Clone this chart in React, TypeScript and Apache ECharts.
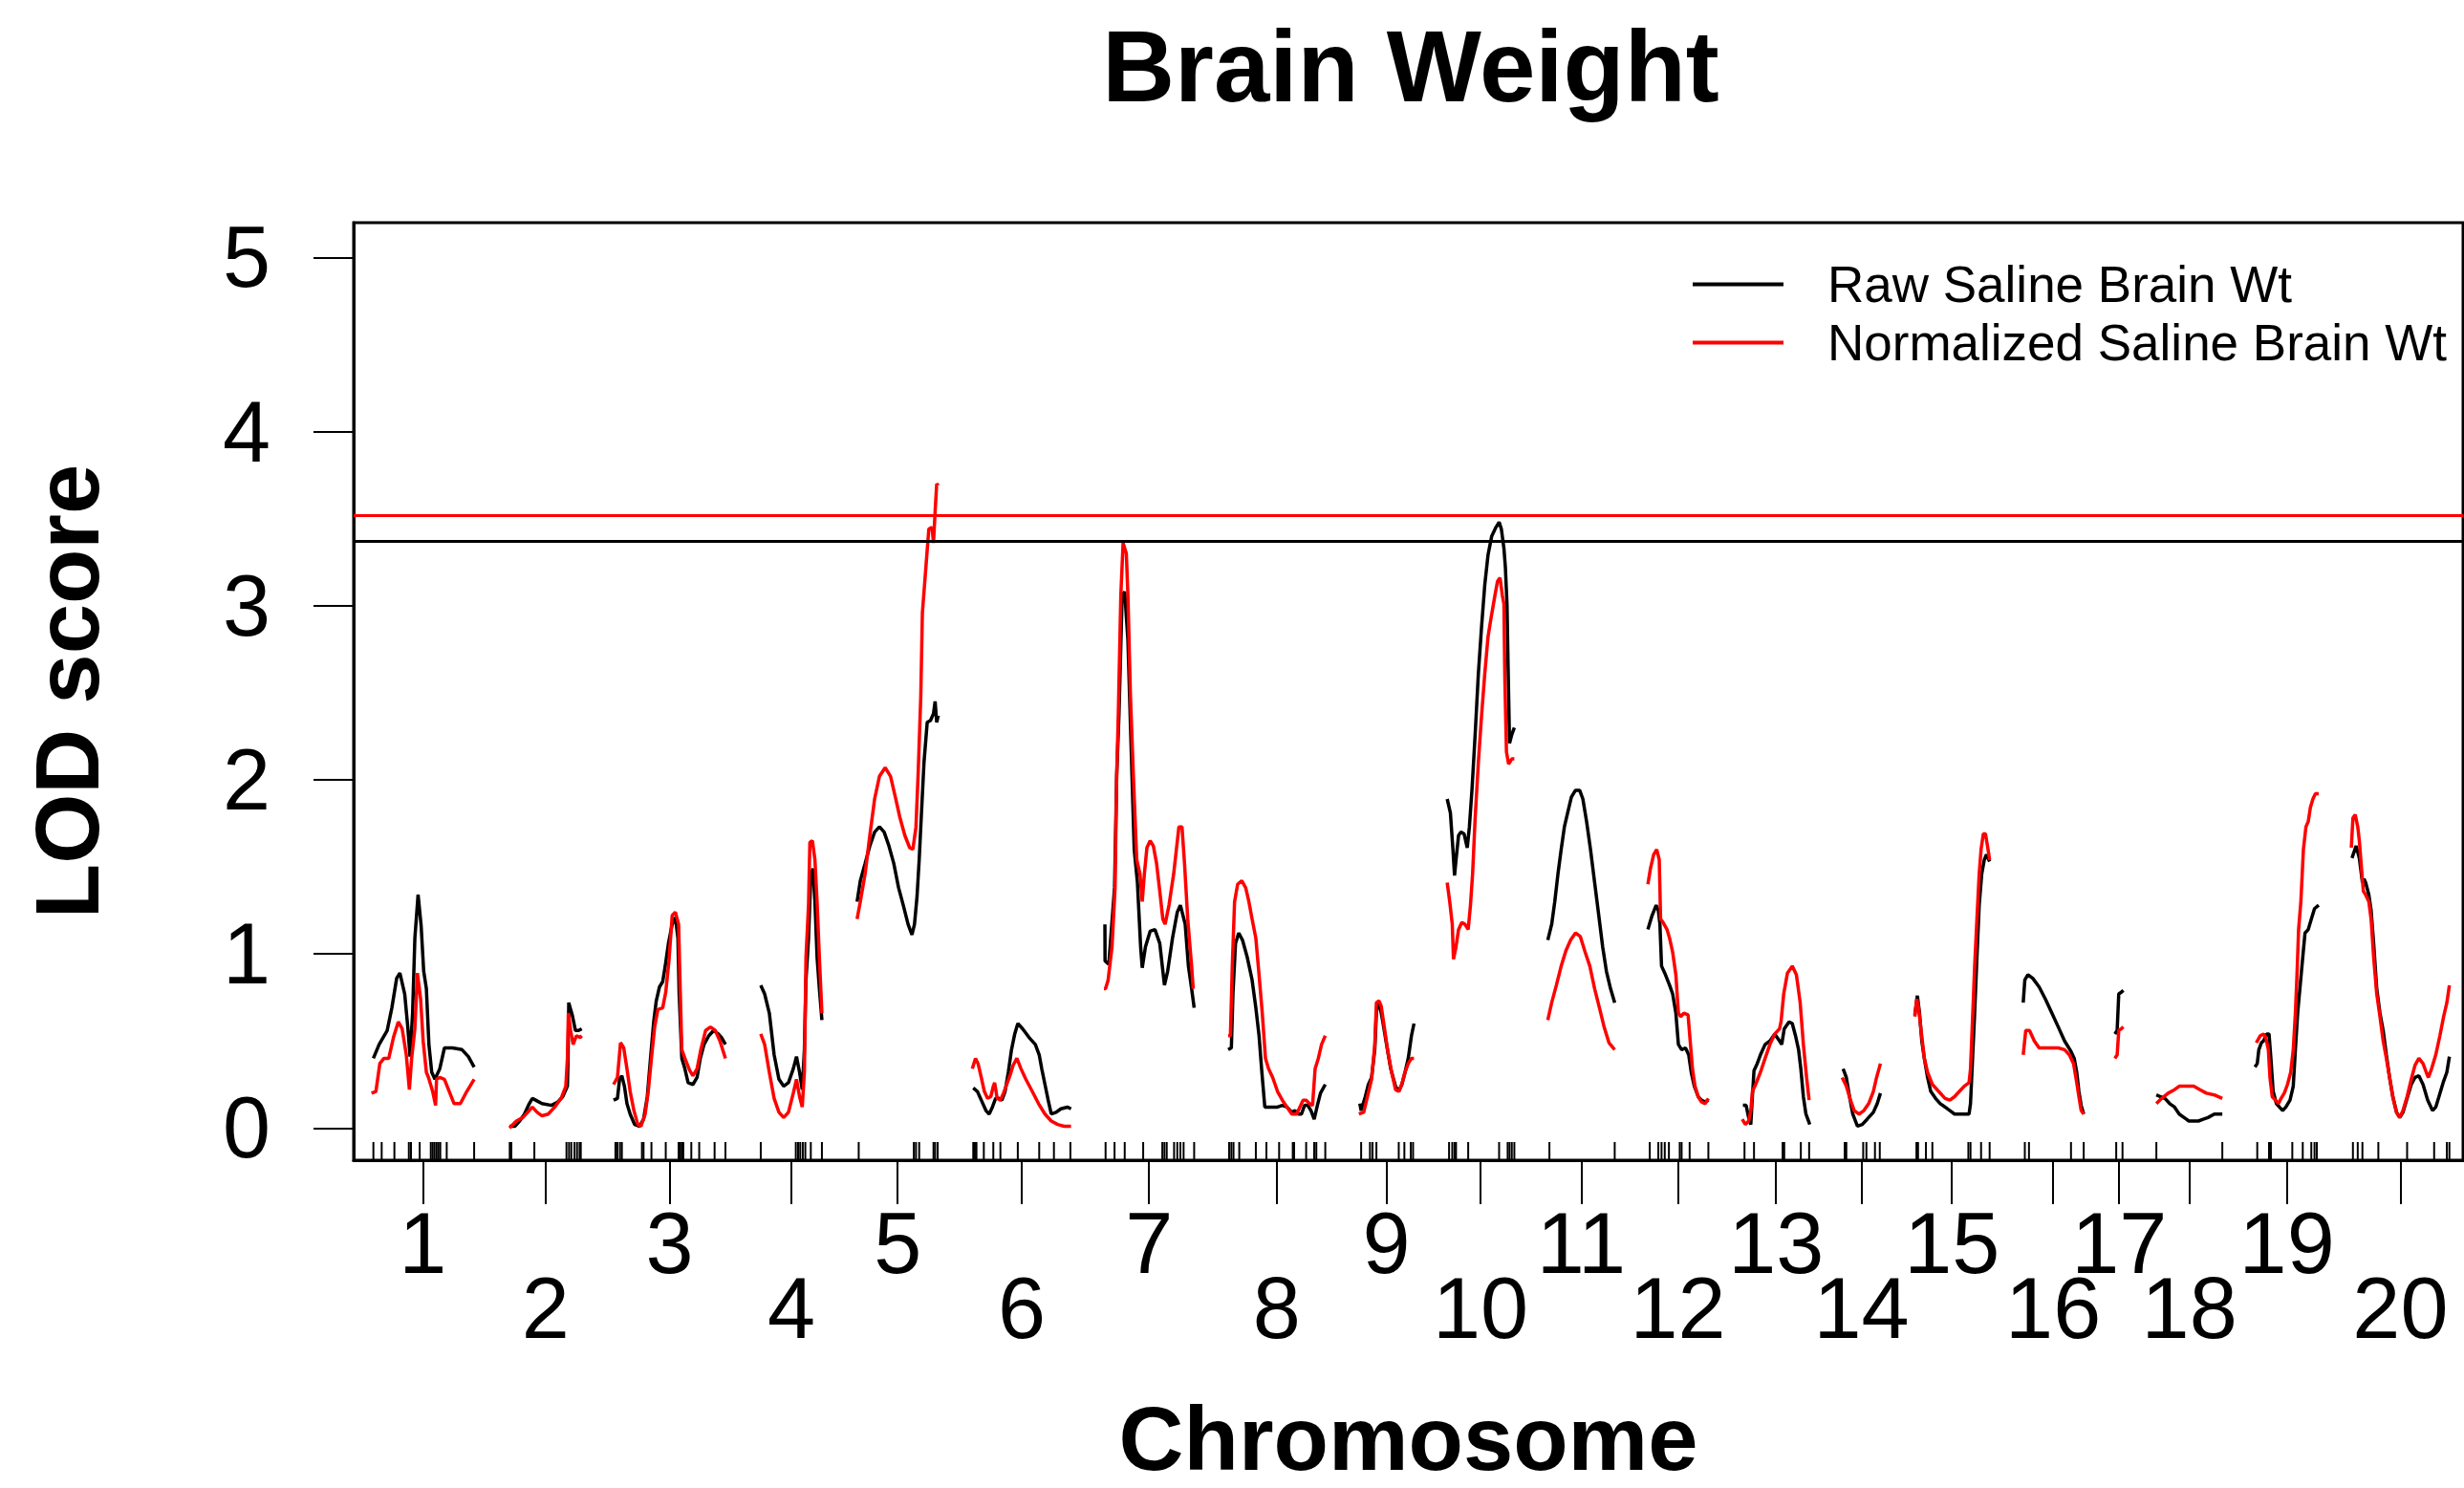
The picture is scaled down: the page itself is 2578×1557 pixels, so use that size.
import React, { useEffect, useRef } from "react";
import * as echarts from "echarts";

// ---------- DATA ----------
const chromosomes = ["1", "2", "3", "4", "5", "6", "7", "8", "9", "10", "11", "12", "13", "14", "15", "16", "17", "18", "19", "20"];

// genome position (cM) where each chromosome begins, and its length (cM)
const chrStart = [0, 103.1, 180.9, 290.9, 362.9, 449.0, 547.4, 640.2, 737.9, 803.4, 879.1, 953.4, 1024.4, 1099.1, 1152.9, 1233.9, 1302.9, 1333.9, 1407.6, 1479.6];
const chrLength = [76.7, 54.0, 83.6, 45.7, 60.7, 73.8, 67.4, 72.6, 41.2, 50.7, 50.0, 45.7, 50.5, 28.6, 56.4, 45.7, 6.4, 49.3, 47.6, 73.3];

const lodTicks = [0, 1, 2, 3, 4, 5];
const rawThreshold = 3.37;
const normThreshold = 3.52;

// [position within chromosome (cM), LOD] — Raw Saline Brain Wt
const rawSaline: number[][][] = [
  [[1.4,0.40],[5.7,0.48],[11.7,0.56],[15.2,0.69],[18.8,0.86],[21.2,0.89],[24.8,0.77],[27.1,0.58],[28.8,0.41],[30.7,0.66],[32.4,1.09],[34.8,1.34],[37.1,1.16],[39.0,0.90],[41.0,0.80],[42.9,0.48],[45.0,0.32],[47.4,0.28],[51.0,0.34],[54.5,0.46],[60.5,0.46],[67.6,0.45],[72.4,0.41],[76.7,0.35]],
  [[0,0.01],[4.0,0.01],[7.6,0.04],[11.2,0.08],[14.8,0.14],[17.1,0.17],[19.5,0.16],[24.3,0.14],[31.4,0.13],[36.2,0.15],[39.8,0.18],[43.3,0.24],[43.8,0.40],[44.3,0.72],[46.9,0.65],[49.3,0.56],[51.7,0.56],[54.0,0.57]],
  [[0,0.16],[2.9,0.17],[4.5,0.28],[6.2,0.30],[8.1,0.24],[10.0,0.14],[12.4,0.08],[15.7,0.02],[19.5,0.01],[22.4,0.05],[25.2,0.18],[27.6,0.40],[30.0,0.61],[31.9,0.73],[34.3,0.81],[36.7,0.84],[38.6,0.93],[41.0,1.06],[43.8,1.17],[46.2,1.21],[48.1,1.09],[49.0,0.77],[51.0,0.40],[53.3,0.34],[55.7,0.26],[59.3,0.25],[62.4,0.29],[64.8,0.40],[67.6,0.48],[71.2,0.53],[74.8,0.56],[78.3,0.54],[80.7,0.52],[83.6,0.48]],
  [[0,0.82],[2.9,0.77],[6.4,0.66],[10.0,0.42],[13.6,0.28],[17.1,0.24],[20.7,0.26],[24.3,0.34],[26.7,0.41],[29.0,0.32],[31.0,0.22],[32.6,0.45],[33.8,0.85],[35.7,1.09],[37.4,1.45],[39.0,1.49],[40.5,1.30],[42.1,0.98],[43.8,0.80],[45.7,0.62]],
  [[0,1.30],[2.4,1.42],[6.0,1.52],[9.5,1.62],[13.1,1.70],[16.7,1.73],[20.2,1.70],[23.8,1.62],[27.4,1.52],[31.0,1.38],[34.5,1.28],[38.1,1.17],[41.0,1.11],[42.9,1.17],[44.8,1.33],[46.4,1.54],[48.1,1.81],[50.0,2.10],[52.4,2.33],[54.8,2.34],[57.1,2.38],[58.3,2.45],[59.5,2.33],[60.7,2.37]],
  [[0.7,0.23],[3.8,0.21],[6.7,0.16],[10.2,0.10],[12.6,0.08],[15.0,0.12],[17.4,0.17],[19.8,0.17],[22.1,0.16],[24.5,0.21],[26.9,0.32],[29.3,0.45],[31.7,0.54],[34.0,0.60],[37.6,0.57],[42.4,0.52],[47.1,0.48],[50.0,0.42],[51.9,0.34],[54.3,0.25],[56.7,0.16],[59.0,0.08],[62.6,0.09],[66.2,0.11],[71.0,0.12],[73.8,0.11]],
  [[0.7,1.17],[0.8,0.96],[3.6,0.94],[7.9,1.38],[9.5,2.02],[11.2,2.37],[13.6,3.06],[15.5,3.08],[17.9,2.80],[20.2,2.21],[22.6,1.60],[25.0,1.41],[27.4,1.04],[28.6,0.92],[31.0,1.04],[34.5,1.13],[38.1,1.14],[41.7,1.06],[45.2,0.82],[47.6,0.90],[51.2,1.09],[54.8,1.24],[57.1,1.28],[60.7,1.17],[63.1,0.93],[65.5,0.80],[67.4,0.69]],
  [[0,0.45],[2.4,0.46],[3.6,0.77],[5.5,1.06],[7.9,1.12],[10.7,1.08],[14.3,0.98],[17.9,0.85],[20.7,0.69],[23.1,0.53],[25.0,0.34],[27.4,0.12],[32.1,0.12],[36.9,0.12],[40.5,0.13],[44.0,0.12],[47.6,0.09],[50.0,0.10],[52.4,0.08],[54.8,0.08],[57.1,0.13],[59.5,0.13],[61.9,0.10],[64.3,0.05],[66.7,0.13],[69.0,0.20],[72.6,0.25]],
  [[0.7,0.14],[1.7,0.10],[4.8,0.18],[7.1,0.25],[9.5,0.29],[11.9,0.45],[13.1,0.66],[14.3,0.72],[16.0,0.69],[17.9,0.61],[20.7,0.48],[23.8,0.34],[27.4,0.24],[29.8,0.21],[32.1,0.25],[34.5,0.32],[36.9,0.40],[39.3,0.53],[41.2,0.60]],
  [[0.5,1.89],[2.9,1.81],[4.8,1.60],[6.0,1.45],[7.1,1.54],[9.0,1.68],[10.7,1.70],[13.1,1.69],[15.5,1.61],[17.1,1.73],[19.0,1.94],[21.4,2.26],[23.8,2.61],[26.2,2.88],[28.6,3.12],[31.0,3.29],[33.8,3.40],[36.9,3.45],[39.3,3.48],[41.0,3.44],[42.9,3.33],[44.0,3.22],[45.2,3.01],[46.0,2.66],[47.1,2.21],[48.8,2.26],[50.7,2.30]],
  [[0,1.08],[2.9,1.17],[5.2,1.30],[7.6,1.46],[10.0,1.60],[12.4,1.73],[14.8,1.81],[17.6,1.90],[20.7,1.94],[23.8,1.94],[26.2,1.89],[29.0,1.76],[31.9,1.60],[35.0,1.41],[38.1,1.22],[41.0,1.04],[43.8,0.90],[46.9,0.80],[50.0,0.72]],
  [[0.5,1.14],[3.6,1.22],[6.7,1.28],[8.3,1.25],[9.5,1.17],[10.7,0.93],[13.1,0.89],[16.7,0.82],[19.0,0.77],[21.4,0.66],[23.3,0.48],[25.7,0.45],[28.6,0.46],[31.0,0.42],[32.9,0.32],[35.2,0.24],[38.1,0.18],[40.5,0.16],[43.3,0.15],[45.7,0.16]],
  [[0.5,0.13],[2.9,0.13],[4.8,0.06],[6.4,0.02],[7.6,0.18],[8.8,0.33],[11.2,0.37],[13.6,0.42],[17.1,0.48],[20.7,0.50],[24.3,0.54],[27.9,0.50],[29.5,0.48],[31.4,0.57],[35.0,0.61],[37.4,0.60],[39.8,0.53],[42.1,0.45],[43.8,0.34],[45.7,0.18],[47.6,0.08],[50.5,0.02]],
  [[0.7,0.34],[3.1,0.29],[5.5,0.18],[7.9,0.08],[11.4,0.01],[15.0,0.02],[18.6,0.05],[23.3,0.09],[26.2,0.14],[28.6,0.20]],
  [[0.5,0.65],[2.4,0.76],[4.0,0.66],[5.7,0.50],[7.6,0.40],[10.0,0.29],[12.4,0.21],[16.0,0.17],[19.5,0.14],[23.1,0.12],[26.7,0.10],[30.2,0.08],[33.8,0.08],[37.4,0.08],[41.0,0.08],[42.1,0.14],[43.3,0.34],[45.2,0.66],[46.9,0.98],[48.6,1.28],[50.5,1.46],[52.4,1.54],[54.0,1.57],[56.4,1.53]],
  [[0.5,0.72],[1.7,0.85],[4.0,0.88],[7.6,0.86],[12.4,0.81],[17.1,0.74],[21.9,0.66],[26.7,0.58],[31.4,0.50],[36.2,0.44],[38.6,0.40],[40.5,0.32],[42.1,0.21],[43.8,0.13],[45.7,0.08]],
  [[0,0.54],[1.7,0.56],[2.9,0.77],[4.8,0.78],[6.4,0.79]],
  [[0,0.19],[2.9,0.18],[6.4,0.17],[10.0,0.14],[13.6,0.12],[17.1,0.08],[20.7,0.06],[24.3,0.04],[27.9,0.04],[31.4,0.04],[35.0,0.05],[38.6,0.06],[43.3,0.08],[49.3,0.08]],
  [[0,0.35],[1.7,0.37],[2.9,0.45],[4.8,0.49],[6.4,0.50],[8.8,0.54],[10.5,0.54],[11.9,0.40],[13.6,0.21],[16.0,0.14],[18.3,0.12],[20.7,0.10],[23.1,0.12],[26.2,0.16],[28.6,0.24],[30.2,0.45],[31.9,0.66],[33.8,0.82],[35.7,0.98],[37.4,1.12],[39.8,1.14],[42.1,1.20],[44.5,1.26],[47.6,1.28]],
  [[0.5,1.55],[3.6,1.62],[6.0,1.55],[8.3,1.41],[9.5,1.43],[10.7,1.41],[13.1,1.34],[14.8,1.25],[16.7,1.06],[19.0,0.80],[21.4,0.66],[23.8,0.56],[26.2,0.42],[28.6,0.29],[31.0,0.18],[33.8,0.09],[36.2,0.06],[38.6,0.09],[41.7,0.17],[44.8,0.25],[47.6,0.29],[50.5,0.30],[53.6,0.25],[57.1,0.16],[60.7,0.10],[63.1,0.12],[65.5,0.18],[68.6,0.26],[71.4,0.32],[73.3,0.41]],
];

// [position within chromosome (cM), LOD] — Normalized Saline Brain Wt
const normSaline: number[][][] = [
  [[0,0.20],[3.3,0.21],[6.2,0.37],[9.3,0.40],[12.9,0.40],[16.4,0.52],[20.0,0.61],[22.9,0.57],[26.0,0.42],[28.3,0.22],[30.0,0.40],[32.4,0.57],[34.3,0.89],[36.7,0.74],[38.6,0.50],[41.0,0.32],[42.6,0.29],[45.7,0.21],[47.9,0.13],[48.6,0.28],[51.0,0.29],[54.5,0.28],[58.1,0.21],[61.7,0.14],[66.4,0.14],[71.2,0.21],[76.7,0.28]],
  [[0,0.00],[5.2,0.04],[10.0,0.06],[13.6,0.09],[17.1,0.12],[20.7,0.09],[24.3,0.07],[29.0,0.08],[33.8,0.12],[38.6,0.17],[42.1,0.24],[43.3,0.40],[44.0,0.66],[45.7,0.56],[47.6,0.48],[50.0,0.53],[52.9,0.52],[54.0,0.53]],
  [[0,0.25],[2.9,0.29],[5.2,0.49],[7.6,0.46],[10.0,0.34],[12.4,0.21],[15.2,0.10],[18.1,0.02],[20.5,0.01],[23.6,0.08],[25.9,0.21],[28.3,0.40],[30.7,0.58],[33.1,0.68],[36.7,0.69],[39.0,0.78],[41.4,0.96],[43.8,1.22],[46.2,1.24],[48.6,1.17],[49.8,0.80],[51.0,0.45],[53.3,0.40],[56.9,0.33],[59.3,0.30],[62.4,0.34],[65.2,0.45],[68.8,0.56],[72.4,0.58],[76.0,0.56],[79.5,0.50],[83.6,0.40]],
  [[0,0.54],[2.9,0.48],[6.4,0.32],[10.0,0.17],[13.6,0.09],[17.1,0.06],[20.7,0.09],[24.3,0.20],[26.7,0.28],[29.0,0.18],[31.0,0.12],[32.6,0.32],[33.8,0.98],[35.7,1.28],[36.7,1.64],[38.6,1.65],[40.5,1.54],[42.1,1.30],[43.8,0.98],[45.7,0.66]],
  [[0,1.20],[2.4,1.30],[6.0,1.46],[9.5,1.68],[13.1,1.89],[16.7,2.02],[21.0,2.07],[25.0,2.02],[28.6,1.90],[32.1,1.78],[35.7,1.68],[39.3,1.61],[41.7,1.60],[44.0,1.73],[45.7,2.05],[47.6,2.48],[48.8,2.96],[51.2,3.20],[53.6,3.44],[56.0,3.45],[57.1,3.36],[58.3,3.54],[59.5,3.70],[60.7,3.69]],
  [[0,0.34],[2.4,0.40],[4.3,0.37],[6.7,0.29],[9.0,0.21],[11.4,0.17],[13.8,0.18],[15.7,0.24],[16.7,0.26],[18.6,0.17],[21.0,0.16],[23.3,0.20],[25.7,0.25],[28.1,0.30],[30.5,0.36],[33.3,0.40],[36.4,0.34],[40.0,0.28],[44.8,0.21],[49.5,0.14],[54.3,0.08],[59.0,0.04],[63.8,0.02],[68.6,0.01],[73.8,0.01]],
  [[0,0.80],[1.2,0.80],[3.1,0.85],[6.0,1.04],[8.3,1.38],[9.5,2.02],[10.7,2.37],[12.6,3.06],[14.3,3.36],[15.5,3.33],[16.7,3.30],[17.9,3.06],[19.8,2.48],[22.1,2.00],[24.5,1.54],[26.9,1.46],[28.6,1.30],[30.2,1.46],[32.1,1.61],[34.5,1.65],[36.9,1.62],[39.3,1.52],[41.7,1.36],[44.0,1.20],[45.7,1.17],[48.6,1.28],[52.1,1.46],[56.0,1.73],[58.3,1.73],[60.2,1.52],[62.6,1.20],[65.5,0.93],[66.7,0.80]],
  [[0,0.53],[1.7,0.53],[3.1,0.93],[4.8,1.30],[7.1,1.40],[10.2,1.42],[13.1,1.38],[15.5,1.30],[17.9,1.20],[20.7,1.09],[23.1,0.88],[25.5,0.66],[27.9,0.40],[30.2,0.34],[33.3,0.29],[36.9,0.21],[40.5,0.16],[44.0,0.12],[47.6,0.08],[51.2,0.08],[53.6,0.12],[56.0,0.16],[58.3,0.16],[60.7,0.14],[63.1,0.13],[65.0,0.34],[67.4,0.40],[69.8,0.48],[72.6,0.53]],
  [[0,0.08],[3.6,0.09],[6.4,0.18],[9.5,0.28],[11.9,0.48],[13.1,0.72],[15.0,0.73],[16.7,0.70],[19.0,0.58],[21.4,0.45],[24.5,0.32],[27.4,0.22],[29.8,0.21],[32.1,0.25],[34.5,0.32],[36.9,0.37],[39.3,0.40],[41.2,0.40]],
  [[0.5,1.41],[2.4,1.30],[4.3,1.17],[5.2,0.97],[7.1,1.04],[9.0,1.14],[11.4,1.18],[13.8,1.17],[16.2,1.14],[17.9,1.28],[19.5,1.46],[21.4,1.78],[23.8,2.10],[26.2,2.37],[28.6,2.61],[31.0,2.82],[33.3,2.93],[36.2,3.06],[38.1,3.14],[40.0,3.16],[41.7,3.06],[42.9,3.01],[43.6,2.58],[44.8,2.16],[46.4,2.09],[48.8,2.12],[50.7,2.12]],
  [[0,0.62],[2.9,0.72],[6.4,0.82],[10.0,0.93],[13.6,1.02],[17.1,1.08],[20.7,1.12],[24.3,1.10],[27.9,1.01],[31.4,0.93],[35.0,0.80],[38.6,0.69],[42.1,0.58],[45.7,0.49],[50.0,0.45]],
  [[0.5,1.40],[2.4,1.49],[4.8,1.57],[7.1,1.60],[9.0,1.54],[10.0,1.20],[11.9,1.18],[14.8,1.14],[16.7,1.09],[19.0,1.01],[21.4,0.88],[23.3,0.66],[25.0,0.64],[27.4,0.66],[30.5,0.65],[32.1,0.50],[33.8,0.34],[35.7,0.24],[38.1,0.18],[40.5,0.15],[43.3,0.14],[45.7,0.17]],
  [[0,0.05],[2.4,0.02],[4.8,0.04],[6.4,0.10],[7.6,0.21],[10.0,0.25],[13.6,0.32],[17.1,0.40],[20.7,0.48],[24.3,0.54],[27.9,0.57],[29.0,0.61],[31.0,0.77],[33.8,0.89],[37.4,0.93],[40.5,0.88],[43.3,0.72],[45.7,0.48],[48.1,0.29],[50.0,0.16]],
  [[0,0.29],[3.1,0.24],[6.2,0.16],[9.0,0.10],[12.6,0.08],[16.2,0.10],[19.8,0.14],[23.3,0.21],[25.7,0.29],[28.6,0.37]],
  [[0.5,0.64],[1.9,0.74],[3.3,0.69],[5.2,0.56],[7.6,0.40],[10.0,0.32],[13.6,0.25],[18.3,0.21],[23.1,0.17],[26.7,0.16],[30.2,0.18],[33.8,0.21],[37.4,0.24],[41.0,0.26],[42.1,0.34],[43.8,0.66],[45.2,0.93],[46.9,1.20],[48.6,1.46],[50.0,1.60],[51.7,1.69],[53.3,1.69],[54.8,1.62],[56.4,1.54]],
  [[0.5,0.42],[2.4,0.56],[5.2,0.56],[8.8,0.50],[12.4,0.46],[17.1,0.46],[21.9,0.46],[26.7,0.46],[31.4,0.45],[35.0,0.42],[38.1,0.37],[40.5,0.26],[42.1,0.18],[43.8,0.10],[45.7,0.08]],
  [[0,0.40],[1.7,0.42],[2.9,0.56],[4.8,0.57],[6.4,0.58]],
  [[0,0.14],[4.0,0.17],[8.8,0.20],[13.6,0.22],[17.1,0.24],[20.7,0.24],[24.3,0.24],[27.9,0.24],[32.6,0.22],[37.4,0.20],[43.3,0.19],[49.3,0.17]],
  [[1.0,0.49],[4.0,0.53],[6.4,0.54],[8.1,0.52],[10.0,0.45],[11.2,0.29],[12.9,0.18],[15.2,0.16],[17.6,0.14],[19.5,0.17],[21.9,0.20],[24.3,0.25],[26.7,0.32],[28.6,0.45],[30.2,0.66],[31.4,0.88],[32.6,1.14],[34.3,1.30],[36.2,1.60],[38.1,1.73],[39.8,1.76],[41.4,1.84],[43.3,1.89],[45.2,1.92],[47.6,1.92]],
  [[0,1.61],[1.2,1.78],[2.9,1.80],[4.8,1.73],[6.0,1.65],[7.1,1.54],[9.0,1.36],[10.7,1.34],[13.1,1.30],[14.8,1.20],[16.7,0.98],[19.0,0.77],[21.4,0.64],[23.8,0.50],[26.2,0.40],[28.6,0.29],[31.0,0.18],[33.8,0.09],[36.2,0.06],[38.6,0.10],[41.7,0.18],[44.8,0.28],[47.6,0.36],[50.5,0.40],[53.6,0.37],[56.0,0.32],[57.6,0.29],[60.0,0.34],[63.1,0.42],[66.2,0.53],[69.0,0.64],[71.4,0.72],[73.3,0.82]],
];

// genetic markers (cM within chromosome)
const markers: number[][] = [
  [1.4, 7.6, 17.1, 27.9, 29.5, 36.0, 44.3, 45.7, 47.1, 48.6, 50.0, 51.4, 56.2, 76.7],
  [0.2, 1.4, 18.6, 42.6, 44.5, 46.2, 48.6, 50.5, 52.4, 53.3],
  [1.4, 2.9, 4.8, 6.2, 21.2, 22.4, 28.3, 39.0, 48.6, 49.8, 51.0, 52.1, 58.1, 64.0, 75.5, 83.6],
  [0, 26.2, 27.9, 29.5, 31.4, 33.3, 37.4, 45.7],
  [1.2, 42.4, 44.0, 46.4, 57.1, 58.3, 60.2],
  [0.7, 1.9, 3.1, 8.6, 15.7, 21.0, 34.0, 50.0, 61.0, 73.3],
  [1.2, 7.9, 15.5, 29.3, 43.6, 45.2, 46.9, 52.4, 54.8, 57.1, 59.5, 67.4],
  [0.7, 2.4, 4.0, 8.3, 20.7, 28.6, 38.1, 48.3, 49.3, 58.3, 64.3, 65.9, 72.6],
  [1.7, 8.3, 10.2, 13.1, 29.8, 34.0, 38.8, 40.5],
  [1.9, 4.3, 6.0, 7.1, 16.2, 39.3, 45.7, 47.1, 48.8, 50.7],
  [1.2, 50.0],
  [1.9, 8.3, 10.7, 13.1, 16.2, 24.3, 25.7, 31.7, 45.7],
  [1.7, 8.8, 30.2, 31.4, 43.8, 50.0],
  [1.9, 3.1, 15.7, 18.1, 24.5, 28.1],
  [1.7, 2.9, 8.8, 13.6, 40.5, 42.1, 50.0, 56.4],
  [1.7, 4.8, 36.2, 45.7],
  [1.0, 5.7],
  [0, 49.3],
  [1.7, 10.5, 11.9, 27.9, 35.7, 42.1, 44.5, 46.2],
  [1.2, 4.8, 8.3, 20.2, 41.7, 61.9, 71.4, 73.3],
];

const rawName = "Raw Saline Brain Wt";
const normName = "Normalized Saline Brain Wt";

// ---------- HELPERS ----------
const FONT = "'Liberation Sans', Arial, Helvetica, sans-serif";

function toGenome(curves: number[][][]) {
  const out: any[] = [];
  curves.forEach((pts, i) => {
    pts.forEach((p) => out.push([chrStart[i] + p[0], p[1]]));
    out.push([chrStart[i] + chrLength[i] + 5, null]);
  });
  return out;
}

const chrMid = chrStart.map((s, i) => s + chrLength[i] / 2);
const markerData: number[][] = [];
markers.forEach((ms, i) => ms.forEach((m) => markerData.push([chrStart[i] + m, 0])));

export default function App() {
  const ref = useRef<HTMLDivElement>(null);

  useEffect(() => {
    if (!ref.current) return;
    const chart = echarts.init(ref.current, null, { renderer: "svg" });

    const option: any = {
      animation: false,
      backgroundColor: "#ffffff",
      title: {
        text: "Brain Weight",
        left: 1476,
        top: 17,
        textAlign: "center",
        padding: 0,
        textStyle: { fontSize: 105, fontWeight: "bold", color: "#000", fontFamily: FONT },
      },
      legend: {
        data: [rawName, normName],
        orient: "vertical",
        left: 1771,
        top: 267,
        padding: 0,
        itemGap: 0,
        icon: "rect",
        itemWidth: 95,
        itemHeight: 4,
        textStyle: { fontSize: 53, color: "#000", fontFamily: FONT, lineHeight: 61, padding: [0, 0, 0, 41] },
      },
      grid: {
        left: 370,
        right: 1,
        top: 233,
        bottom: 340,
        show: true,
        borderColor: "#000",
        borderWidth: 3,
        backgroundColor: "transparent",
      },
      xAxis: {
        type: "value",
        min: -13.36,
        max: 1563.1,
        axisLine: { show: true, onZero: false, lineStyle: { color: "#000", width: 3 } },
        axisTick: { show: true, customValues: chrMid, length: 46, inside: false, lineStyle: { color: "#000", width: 2 } },
        axisLabel: {
          show: true,
          customValues: chrMid,
          interval: 0,
          margin: 53,
          fontSize: 90,
          lineHeight: 68,
          color: "#000",
          fontFamily: FONT,
          formatter: (v: number) => {
            let idx = 0;
            let best = Infinity;
            chrMid.forEach((m, i) => {
              const d = Math.abs(m - v);
              if (d < best) { best = d; idx = i; }
            });
            return idx % 2 === 0 ? chromosomes[idx] : "\n" + chromosomes[idx];
          },
        },
        splitLine: { show: false },
        name: "Chromosome",
        nameLocation: "middle",
        nameGap: 244,
        nameTextStyle: { fontSize: 94, fontWeight: "bold", color: "#000", fontFamily: FONT },
      },
      yAxis: {
        type: "value",
        min: -0.185,
        max: 5.2,
        axisLine: { show: true, onZero: false, lineStyle: { color: "#000", width: 3 } },
        axisTick: { show: true, customValues: lodTicks, length: 42, inside: false, lineStyle: { color: "#000", width: 2 } },
        axisLabel: {
          show: true,
          customValues: lodTicks,
          margin: 87,
          fontSize: 90,
          color: "#000",
          fontFamily: FONT,
        },
        splitLine: { show: false },
        name: "LOD score",
        nameLocation: "middle",
        nameGap: 253,
        nameTextStyle: { fontSize: 94, fontWeight: "bold", color: "#000", fontFamily: FONT },
      },
      series: [
        {
          name: "markers",
          type: "custom",
          silent: true,
          data: markerData,
          encode: { x: 0, y: 1 },
          renderItem: (params: any, api: any) => {
            const x = api.coord([api.value(0), 0])[0];
            const cs = params.coordSys;
            const yb = cs.y + cs.height;
            return {
              type: "line",
              shape: { x1: x, y1: yb, x2: x, y2: yb - 19 },
              style: { stroke: "#000", lineWidth: 2 },
            };
          },
          z: 1,
        },
        {
          name: rawName,
          type: "line",
          data: toGenome(rawSaline),
          symbol: "none",
          showSymbol: false,
          connectNulls: false,
          color: "#000000",
          lineStyle: { color: "#000000", width: 3.5 },
          z: 2,
          markLine: {
            silent: true,
            symbol: ["none", "none"],
            label: { show: false },
            lineStyle: { color: "#000000", width: 3, type: "solid" },
            data: [{ yAxis: rawThreshold }],
          },
        },
        {
          name: normName,
          type: "line",
          data: toGenome(normSaline),
          symbol: "none",
          showSymbol: false,
          connectNulls: false,
          color: "#ff0000",
          lineStyle: { color: "#ff0000", width: 3.5 },
          z: 3,
          markLine: {
            silent: true,
            symbol: ["none", "none"],
            label: { show: false },
            lineStyle: { color: "#ff0000", width: 3, type: "solid" },
            data: [{ yAxis: normThreshold }],
          },
        },
      ],
    };

    chart.setOption(option);
    return () => chart.dispose();
  }, []);

  return (
    <div
      ref={ref}
      style={{ position: "fixed", left: 0, top: 0, width: "2578px", height: "1557px", background: "#fff" }}
    />
  );
}
